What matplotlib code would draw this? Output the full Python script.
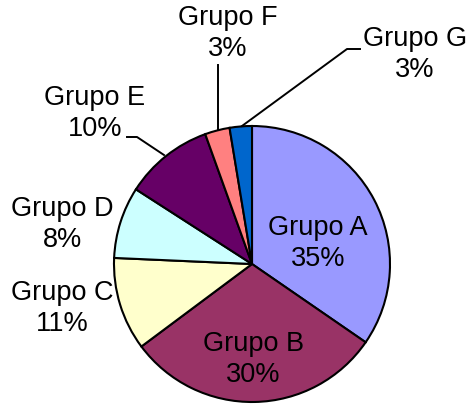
import matplotlib
matplotlib.use('Agg')
import matplotlib.pyplot as plt

# data
grupos = ['Grupo A', 'Grupo B', 'Grupo C', 'Grupo D', 'Grupo E', 'Grupo F', 'Grupo G']
valores = [34.6, 30.2, 10.9, 8.4, 10.4, 2.9, 2.6]
colores = ['#9999FF', '#993366', '#FFFFCC', '#CCFFFF', '#660066', '#FF8080', '#0066CC']

W, H = 469, 405
plt.rcParams['font.family'] = ['Liberation Sans', 'DejaVu Sans']

fig = plt.figure(figsize=(W / 100, H / 100), dpi=100)
ax = fig.add_axes([0, 0, 1, 1])


def py(y):
    # pixel row (from top) -> data y
    return H - y


ax.pie(valores, colors=colores, startangle=90, counterclock=False,
       center=(252, py(264)), radius=138,
       wedgeprops=dict(edgecolor='black', linewidth=1.5))

ax.set_xlim(0, W)
ax.set_ylim(0, H)
ax.set_aspect('equal')
ax.axis('off')

total = sum(valores)
pct = ['{:.0f}%'.format(v / total * 100) for v in valores]

# label positions in pixels (centre x, centre of first line y)
pos = [(318, 228), (253, 344), (62, 293), (62, 209), (95, 98), (228, 18), (415, 39)]
for g, p, (x, y) in zip(grupos, pct, pos):
    ax.text(x, py(y), g, ha='center', va='center', fontsize=19.5)
    ax.text(x, py(y + 31), p, ha='center', va='center', fontsize=19.5)

# leader lines
lw = 1.4
ax.plot([127, 137, 164], [py(137), py(137), py(155)], color='black', lw=lw)
ax.plot([218, 218], [py(65), py(129)], color='black', lw=lw)
ax.plot([360, 347, 242], [py(49), py(49), py(126)], color='black', lw=lw)

fig.savefig('out.png', dpi=100)
